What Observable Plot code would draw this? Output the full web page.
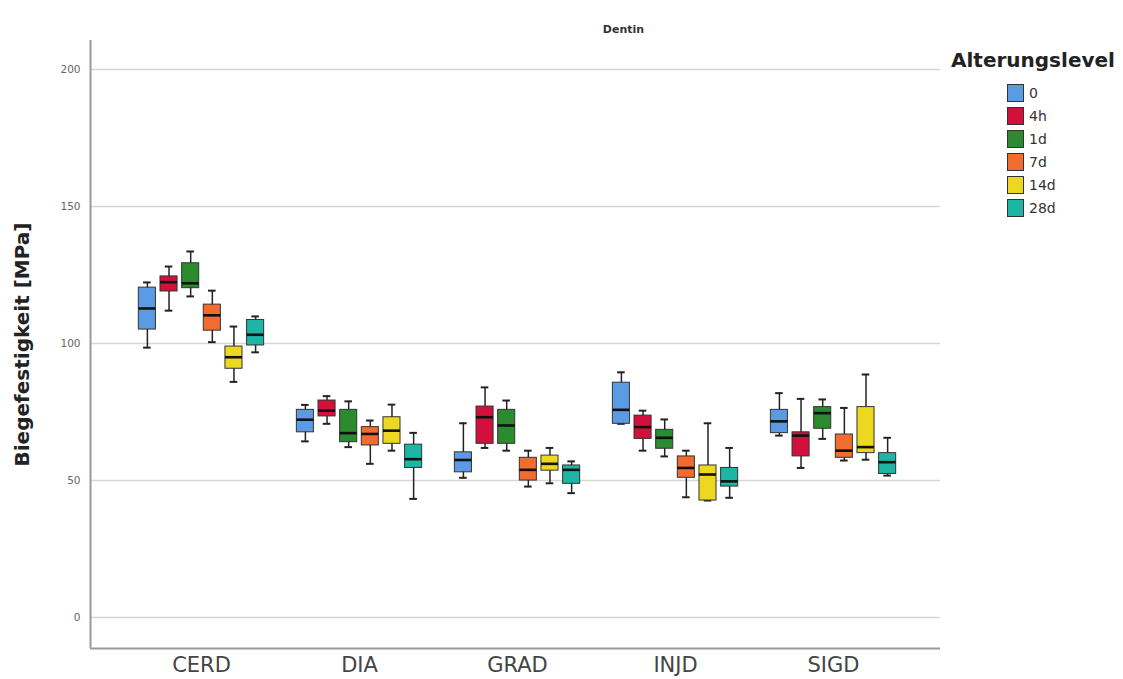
<!DOCTYPE html>
<html>
<head>
<meta charset="utf-8">
<script src="https://cdn.jsdelivr.net/npm/d3@7"></script>
<script src="https://cdn.jsdelivr.net/npm/@observablehq/plot@0.6"></script>
<style>
  body { margin: 0; background: #fff; }
  #wrap { position: relative; width: 1123px; height: 679px; font-family: "DejaVu Sans", sans-serif; }
  #legend { position: absolute; left: 951px; top: 48px; }
  #legend .title { font-weight: bold; font-size: 20px; color: #222; }
  #legend .row { position: absolute; left: 56px; height: 19px; display: flex; align-items: center; font-size: 14px; color: #333; }
  #legend .sw { width: 17px; height: 18px; border: 1px solid #333; box-sizing: border-box; margin-right: 5px; }
</style>
</head>
<body>
<div id="wrap"></div>
<script>
const title = "Dentin";
const yLabel = "Biegefestigkeit [MPa]";
const legendTitle = "Alterungslevel";
const categories = ["CERD", "DIA", "GRAD", "INJD", "SIGD"];
const levels = ["0", "4h", "1d", "7d", "14d", "28d"];
const levelColors = ["#5b9be3", "#d3103c", "#2c8a2f", "#f26b2f", "#ebd81f", "#1db5a4"];
const yTicks = [0, 50, 100, 150, 200];

// rows: categories, columns: levels
const minVals = [
  [98.5, 112, 117.2, 100.5, 86, 96.8],
  [64.3, 70.7, 62.2, 56.1, 60.9, 43.3],
  [51, 61.9, 60.9, 47.8, 49, 45.4],
  [70.7, 60.9, 58.8, 43.9, 42.7, 43.7],
  [66.4, 54.6, 65.2, 57.3, 57.6, 51.8]
];
const q1Vals = [
  [105.1, 119, 120.2, 104.7, 90.8, 99.3],
  [67.6, 73.4, 64, 62.8, 63.4, 54.6],
  [53, 63.4, 63.4, 50, 53.6, 48.8],
  [70.7, 65.2, 61.6, 51, 42.7, 47.8],
  [67.3, 58.8, 68.9, 58.3, 60, 52.4]
];
const medianVals = [
  [112.8, 122.4, 122, 110.3, 95, 103.2],
  [72.2, 75.5, 67.3, 67, 68.2, 57.8],
  [57.5, 73.1, 70.1, 53.9, 56.1, 53.9],
  [75.8, 69.5, 65.6, 54.6, 52.2, 49.7],
  [71.6, 66.4, 74.6, 60.9, 62.2, 56.7]
];
const q3Vals = [
  [120.4, 124.5, 129.3, 114.2, 98.9, 108.6],
  [75.8, 79.2, 75.8, 69.5, 73.1, 63.1],
  [60.3, 77, 75.8, 58.3, 59.1, 55.5],
  [85.7, 73.7, 68.5, 58.8, 55.5, 54.6],
  [75.8, 67.6, 76.8, 66.8, 76.8, 60]
];
const maxVals = [
  [122.3, 128.1, 133.6, 119.3, 106.2, 109.9],
  [77.6, 80.8, 78.9, 71.9, 77.7, 67.4],
  [70.9, 84, 79.2, 60.9, 61.9, 57],
  [89.5, 75.5, 72.3, 60.9, 70.9, 61.9],
  [81.9, 79.8, 79.6, 76.5, 88.7, 65.6]
];

// layout constants (in x-scale units: one unit = one category)
const groupStep = 0.137, boxHalf = 0.054, capHalf = 0.024;
const xDomain = [-0.7025, 4.677];
const yDomain = [-11.3, 210.6];

const rows = [];
categories.forEach((c, ci) => {
  levels.forEach((l, li) => {
    const pos = ci + (li - (levels.length - 1) / 2) * groupStep;
    rows.push({cat: c, level: l, pos,
      min: minVals[ci][li], q1: q1Vals[ci][li], med: medianVals[ci][li],
      q3: q3Vals[ci][li], max: maxVals[ci][li]});
  });
});

const font = "DejaVu Sans, sans-serif";
const chart = Plot.plot({
  width: 1123,
  height: 679,
  marginLeft: 90,
  marginRight: 183,
  marginTop: 40,
  marginBottom: 31,
  style: {fontFamily: font, background: "#fff", overflow: "visible"},
  x: {type: "linear", domain: xDomain},
  y: {domain: yDomain},
  color: {domain: levels, range: levelColors},
  marks: [
    Plot.ruleY(yTicks, {stroke: "#d6d6d6", strokeWidth: 1.6}),
    Plot.ruleX([xDomain[0]], {stroke: "#9a9a9a", strokeWidth: 2}),
    Plot.ruleY([yDomain[0]], {stroke: "#9a9a9a", strokeWidth: 2}),
    Plot.axisY({ticks: yTicks, tickSize: 0, tickPadding: 10, fontSize: 10.5, color: "#666", label: null}),
    Plot.axisX({ticks: d3.range(categories.length), tickFormat: i => categories[i], tickSize: 0, tickPadding: 9, fontSize: 21, color: "#444", label: null}),
    Plot.ruleX(rows, {x: "pos", y1: "min", y2: "max", stroke: "#222", strokeWidth: 1.5}),
    Plot.ruleY(rows, {y: "min", x1: d => d.pos - capHalf, x2: d => d.pos + capHalf, stroke: "#222", strokeWidth: 2}),
    Plot.ruleY(rows, {y: "max", x1: d => d.pos - capHalf, x2: d => d.pos + capHalf, stroke: "#222", strokeWidth: 2}),
    Plot.rectY(rows, {x1: d => d.pos - boxHalf, x2: d => d.pos + boxHalf, y1: "q1", y2: "q3", fill: "level", stroke: "#333", strokeWidth: 1}),
    Plot.ruleY(rows, {y: "med", x1: d => d.pos - boxHalf, x2: d => d.pos + boxHalf, stroke: "#111", strokeWidth: 2.6}),
    Plot.text([yLabel], {frameAnchor: "left", dx: -68, rotate: -90, textAnchor: "middle", fontSize: 20, fontWeight: "bold", fill: "#222"}),
    Plot.text([title], {frameAnchor: "top", dx: 108, dy: -15, textAnchor: "middle", fontSize: 11, fontWeight: "bold", fill: "#333"})
  ]
});

const wrap = document.getElementById("wrap");
wrap.appendChild(chart);

const legend = document.createElement("div");
legend.id = "legend";
const lt = document.createElement("div");
lt.className = "title";
lt.textContent = legendTitle;
legend.appendChild(lt);
levels.forEach((l, i) => {
  const row = document.createElement("div");
  row.className = "row";
  row.style.top = (35 + i * 23) + "px";
  const sw = document.createElement("div");
  sw.className = "sw";
  sw.style.background = levelColors[i];
  const tx = document.createElement("span");
  tx.textContent = l;
  row.appendChild(sw);
  row.appendChild(tx);
  legend.appendChild(row);
});
wrap.appendChild(legend);
</script>
</body>
</html>
